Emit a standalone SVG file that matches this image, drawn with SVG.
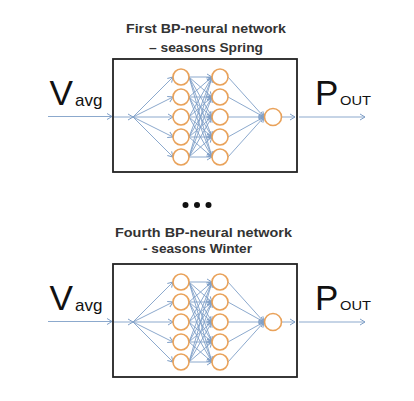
<svg xmlns="http://www.w3.org/2000/svg" width="414" height="401" viewBox="0 0 414 401">
<defs>
<marker id="ah" markerWidth="8" markerHeight="8" refX="6" refY="4" orient="auto" markerUnits="userSpaceOnUse">
<path d="M1,1 L6,4 L1,7" fill="none" stroke="#7f9fc7" stroke-width="1"/>
</marker>
</defs>
<style>
.box{fill:#fff;stroke:#222;stroke-width:1.8}
.n{fill:#fff;stroke:#e9a25a;stroke-width:1.6}
.c line{stroke:#7f9fc7;stroke-width:0.9;marker-end:url(#ah)}
.ttl{font-family:"Liberation Sans",Arial,sans-serif;font-weight:bold;font-size:13px;fill:#333}
.big{font-family:"Liberation Sans",Arial,sans-serif;font-size:35px;fill:#111}
.sub{font-family:"Liberation Sans",Arial,sans-serif;font-size:17px;fill:#111}
.sc{font-family:"Liberation Sans",Arial,sans-serif;font-size:13px;fill:#111}
</style>
<rect width="414" height="401" fill="#fff"/>

<g id="title1">
<text class="ttl" x="126" y="32.5" textLength="160" lengthAdjust="spacingAndGlyphs">First BP-neural network</text>
<text class="ttl" x="149" y="52" textLength="114" lengthAdjust="spacingAndGlyphs">– seasons Spring</text>
</g>
<g id="title4">
<text class="ttl" x="115" y="237" textLength="177" lengthAdjust="spacingAndGlyphs">Fourth BP-neural network</text>
<text class="ttl" x="143" y="253" textLength="109" lengthAdjust="spacingAndGlyphs">- seasons Winter</text>
</g>
<g id="ellipsis" fill="#111">
<circle cx="185.5" cy="205" r="3"/><circle cx="197" cy="205" r="3"/><circle cx="208.5" cy="205" r="3"/>
</g>

<g id="network1">
<g id="box1"><rect class="box" x="113" y="59" width="184" height="113"/></g>
<g id="in1"><text class="big" x="49.5" y="105" textLength="23.5" lengthAdjust="spacingAndGlyphs">V</text><text class="sub" x="75" y="106">avg</text></g>
<g id="out1"><text class="big" x="315" y="105">P</text><text class="sc" x="340" y="105" textLength="31" lengthAdjust="spacingAndGlyphs">OUT</text></g>
<g class="c" id="conn1">
<line x1="48" y1="116.5" x2="112" y2="116.5"/>
<line x1="114" y1="117" x2="133" y2="117"/>
<line x1="133" y1="117" x2="173" y2="77"/>
<line x1="133" y1="117" x2="173" y2="97"/>
<line x1="133" y1="117" x2="173" y2="117"/>
<line x1="133" y1="117" x2="173" y2="137"/>
<line x1="133" y1="117" x2="173" y2="157"/>
<line x1="189" y1="77" x2="212" y2="77"/><line x1="189" y1="77" x2="212" y2="97"/><line x1="189" y1="77" x2="212" y2="117"/><line x1="189" y1="77" x2="212" y2="137"/><line x1="189" y1="77" x2="212" y2="157"/>
<line x1="189" y1="97" x2="212" y2="77"/><line x1="189" y1="97" x2="212" y2="97"/><line x1="189" y1="97" x2="212" y2="117"/><line x1="189" y1="97" x2="212" y2="137"/><line x1="189" y1="97" x2="212" y2="157"/>
<line x1="189" y1="117" x2="212" y2="77"/><line x1="189" y1="117" x2="212" y2="97"/><line x1="189" y1="117" x2="212" y2="117"/><line x1="189" y1="117" x2="212" y2="137"/><line x1="189" y1="117" x2="212" y2="157"/>
<line x1="189" y1="137" x2="212" y2="77"/><line x1="189" y1="137" x2="212" y2="97"/><line x1="189" y1="137" x2="212" y2="117"/><line x1="189" y1="137" x2="212" y2="137"/><line x1="189" y1="137" x2="212" y2="157"/>
<line x1="189" y1="157" x2="212" y2="77"/><line x1="189" y1="157" x2="212" y2="97"/><line x1="189" y1="157" x2="212" y2="117"/><line x1="189" y1="157" x2="212" y2="137"/><line x1="189" y1="157" x2="212" y2="157"/>
<line x1="228" y1="77" x2="264" y2="117"/>
<line x1="228" y1="97" x2="264" y2="117"/>
<line x1="228" y1="117" x2="264" y2="117"/>
<line x1="228" y1="137" x2="264" y2="117"/>
<line x1="228" y1="157" x2="264" y2="117"/>
<line x1="282" y1="117" x2="295" y2="117"/>
<line x1="299" y1="117" x2="365" y2="117"/>
</g>
<g id="n1_h1_1"><circle class="n" cx="181" cy="77" r="8"/></g>
<g id="n1_h1_2"><circle class="n" cx="181" cy="97" r="8"/></g>
<g id="n1_h1_3"><circle class="n" cx="181" cy="117" r="8"/></g>
<g id="n1_h1_4"><circle class="n" cx="181" cy="137" r="8"/></g>
<g id="n1_h1_5"><circle class="n" cx="181" cy="157" r="8"/></g>
<g id="n1_h2_1"><circle class="n" cx="220" cy="77" r="8"/></g>
<g id="n1_h2_2"><circle class="n" cx="220" cy="97" r="8"/></g>
<g id="n1_h2_3"><circle class="n" cx="220" cy="117" r="8"/></g>
<g id="n1_h2_4"><circle class="n" cx="220" cy="137" r="8"/></g>
<g id="n1_h2_5"><circle class="n" cx="220" cy="157" r="8"/></g>
<g id="n1_out"><circle class="n" cx="273" cy="117" r="8.5"/></g>
</g>

<g id="network4" transform="translate(0,205)">
<g id="box4"><rect class="box" x="113" y="59" width="184" height="113"/></g>
<g id="in4"><text class="big" x="49.5" y="105" textLength="23.5" lengthAdjust="spacingAndGlyphs">V</text><text class="sub" x="75" y="106">avg</text></g>
<g id="out4"><text class="big" x="315" y="105">P</text><text class="sc" x="340" y="105" textLength="31" lengthAdjust="spacingAndGlyphs">OUT</text></g>
<g class="c" id="conn4">
<line x1="48" y1="116.5" x2="112" y2="116.5"/>
<line x1="114" y1="117" x2="133" y2="117"/>
<line x1="133" y1="117" x2="173" y2="77"/>
<line x1="133" y1="117" x2="173" y2="97"/>
<line x1="133" y1="117" x2="173" y2="117"/>
<line x1="133" y1="117" x2="173" y2="137"/>
<line x1="133" y1="117" x2="173" y2="157"/>
<line x1="189" y1="77" x2="212" y2="77"/><line x1="189" y1="77" x2="212" y2="97"/><line x1="189" y1="77" x2="212" y2="117"/><line x1="189" y1="77" x2="212" y2="137"/><line x1="189" y1="77" x2="212" y2="157"/>
<line x1="189" y1="97" x2="212" y2="77"/><line x1="189" y1="97" x2="212" y2="97"/><line x1="189" y1="97" x2="212" y2="117"/><line x1="189" y1="97" x2="212" y2="137"/><line x1="189" y1="97" x2="212" y2="157"/>
<line x1="189" y1="117" x2="212" y2="77"/><line x1="189" y1="117" x2="212" y2="97"/><line x1="189" y1="117" x2="212" y2="117"/><line x1="189" y1="117" x2="212" y2="137"/><line x1="189" y1="117" x2="212" y2="157"/>
<line x1="189" y1="137" x2="212" y2="77"/><line x1="189" y1="137" x2="212" y2="97"/><line x1="189" y1="137" x2="212" y2="117"/><line x1="189" y1="137" x2="212" y2="137"/><line x1="189" y1="137" x2="212" y2="157"/>
<line x1="189" y1="157" x2="212" y2="77"/><line x1="189" y1="157" x2="212" y2="97"/><line x1="189" y1="157" x2="212" y2="117"/><line x1="189" y1="157" x2="212" y2="137"/><line x1="189" y1="157" x2="212" y2="157"/>
<line x1="228" y1="77" x2="264" y2="117"/>
<line x1="228" y1="97" x2="264" y2="117"/>
<line x1="228" y1="117" x2="264" y2="117"/>
<line x1="228" y1="137" x2="264" y2="117"/>
<line x1="228" y1="157" x2="264" y2="117"/>
<line x1="282" y1="117" x2="295" y2="117"/>
<line x1="299" y1="117" x2="365" y2="117"/>
</g>
<g id="n4_h1_1"><circle class="n" cx="181" cy="77" r="8"/></g>
<g id="n4_h1_2"><circle class="n" cx="181" cy="97" r="8"/></g>
<g id="n4_h1_3"><circle class="n" cx="181" cy="117" r="8"/></g>
<g id="n4_h1_4"><circle class="n" cx="181" cy="137" r="8"/></g>
<g id="n4_h1_5"><circle class="n" cx="181" cy="157" r="8"/></g>
<g id="n4_h2_1"><circle class="n" cx="220" cy="77" r="8"/></g>
<g id="n4_h2_2"><circle class="n" cx="220" cy="97" r="8"/></g>
<g id="n4_h2_3"><circle class="n" cx="220" cy="117" r="8"/></g>
<g id="n4_h2_4"><circle class="n" cx="220" cy="137" r="8"/></g>
<g id="n4_h2_5"><circle class="n" cx="220" cy="157" r="8"/></g>
<g id="n4_out"><circle class="n" cx="273" cy="117" r="8.5"/></g>
</g>
</svg>
